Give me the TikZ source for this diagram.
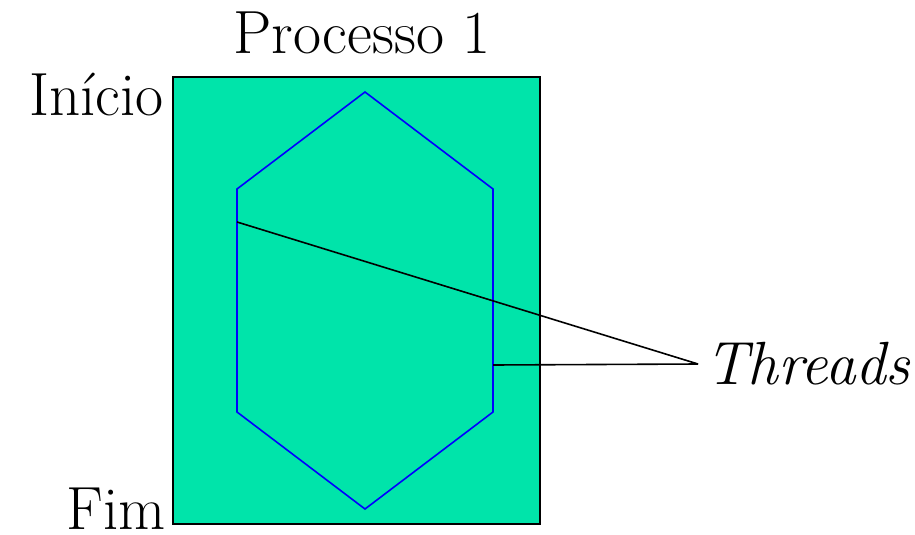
\documentclass[tikz,border=0pt]{standalone}
\usetikzlibrary{positioning}
\definecolor{ProcGreen}{RGB}{0,228,170}
\definecolor{ThreadBlue}{RGB}{0,0,255}
\tikzset{
  labeltext/.style={font=\fontsize{61}{70}\selectfont, inner sep=0pt},
  pointer/.style={line width=1.6pt, black},
}
\begin{document}
\begin{tikzpicture}[x=1pt,y=-1pt]
  \useasboundingbox (0,0) rectangle (915,535);
  % processo
  \draw[fill=ProcGreen, line width=2.2pt] (173,77) rectangle (540,524);
  \node[labeltext, anchor=base] (proc) at (362,53) {Processo 1};
  \node[labeltext, anchor=base east] (inicio) at (164,115) {Início};
  \node[labeltext, anchor=base east] (fim) at (166,529) {Fim};
  % threads
  \draw[ThreadBlue, line width=1.6pt] (365,92) -- (493,189) -- (493,412) -- (365,509) -- (237,412) -- (237,189) -- cycle;
  \coordinate (ta) at (237,222);
  \coordinate (tb) at (493,365);
  \node[labeltext, font=\fontsize{61}{70}\selectfont\itshape, inner xsep=7pt, anchor=west] (threads) at (698,364) {Threads};
  \draw[pointer] (ta) -- (threads.west);
  \draw[pointer] (tb) -- (threads.west);
\end{tikzpicture}
\end{document}
